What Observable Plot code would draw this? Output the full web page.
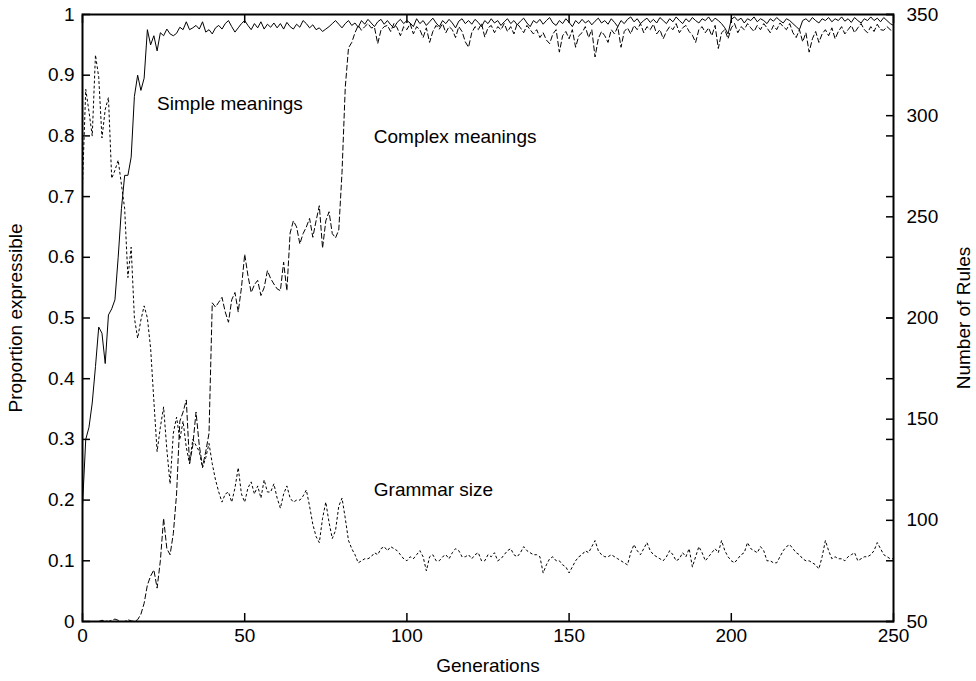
<!DOCTYPE html>
<html>
<head>
<meta charset="utf-8">
<script src="https://cdn.jsdelivr.net/npm/d3@7"></script>
<script src="https://cdn.jsdelivr.net/npm/@observablehq/plot@0.6"></script>
<style>
  html, body { margin: 0; padding: 0; background: #fff; }
</style>
</head>
<body>
<div id="chart"></div>
<script>
// Proportion of simple meanings expressible, generation 0..250
const simple = [
  0.19,0.30,0.32,0.36,0.42,0.485,0.475,0.425,0.505,0.515,
  0.53,0.60,0.68,0.735,0.735,0.765,0.865,0.90,0.875,0.895,
  0.975,0.95,0.965,0.94,0.97,0.965,0.976,0.968,0.965,0.969,
  0.979,0.975,0.988,0.975,0.978,0.982,0.976,0.988,0.971,0.975,
  0.968,0.978,0.982,0.976,0.985,0.99,0.98,0.971,0.978,0.985,
  0.99,0.982,0.975,0.985,0.978,0.988,0.976,0.984,0.979,0.986,
  0.978,0.985,0.976,0.987,0.98,0.976,0.984,0.979,0.99,0.985,
  0.978,0.983,0.975,0.978,0.972,0.976,0.98,0.985,0.99,0.984,
  0.978,0.985,0.99,0.982,0.986,0.979,0.99,0.984,0.992,0.986,
  0.98,0.988,0.992,0.984,0.99,0.983,0.978,0.987,0.992,0.985,
  0.99,0.986,0.98,0.993,0.985,0.99,0.982,0.988,0.994,0.986,
  0.98,0.99,0.985,0.992,0.986,0.978,0.989,0.993,0.985,0.99,
  0.984,0.992,0.987,0.98,0.99,0.985,0.993,0.986,0.99,0.982,
  0.988,0.993,0.985,0.99,0.983,0.989,0.994,0.986,0.98,0.99,
  0.986,0.992,0.984,0.99,0.995,0.986,0.982,0.99,0.985,0.993,
  0.987,0.98,0.99,0.985,0.992,0.986,0.99,0.983,0.989,0.994,
  0.986,0.99,0.984,0.993,0.987,0.98,0.99,0.985,0.992,0.996,
  0.988,0.993,0.985,0.99,0.994,0.987,0.992,0.986,0.995,0.99,
  0.985,0.993,0.988,0.996,0.99,0.985,0.993,0.988,0.995,0.99,
  0.986,0.993,0.99,0.996,0.988,0.994,0.99,0.985,0.978,0.968,
  0.992,0.996,0.99,0.994,0.986,0.993,0.99,0.996,0.988,0.993,
  0.99,0.985,0.993,0.989,0.995,0.99,0.986,0.993,0.99,0.985,
  0.98,0.975,0.99,0.993,0.988,0.995,0.99,0.986,0.993,0.99,
  0.995,0.988,0.993,0.99,0.996,0.989,0.993,0.987,0.995,0.99,
  0.986,0.993,0.99,0.996,0.99,0.994,0.988,0.995,0.99,0.985,
  0.982
];

// Proportion of complex meanings expressible, generation 0..250
const complex = [
  0,0,0,0,0,0,0.002,0.001,0,0.002,
  0.004,0.002,0,0,0.003,0.001,0,0.003,0.012,0.03,
  0.06,0.075,0.085,0.055,0.10,0.17,0.12,0.11,0.145,0.21,
  0.33,0.345,0.365,0.26,0.29,0.345,0.29,0.255,0.28,0.31,
  0.525,0.518,0.526,0.534,0.51,0.493,0.53,0.542,0.51,0.55,
  0.605,0.57,0.542,0.555,0.562,0.537,0.55,0.578,0.565,0.556,
  0.548,0.545,0.592,0.545,0.64,0.66,0.65,0.622,0.639,0.65,
  0.664,0.633,0.66,0.685,0.615,0.66,0.675,0.639,0.632,0.645,
  0.74,0.88,0.945,0.954,0.97,0.982,0.974,0.98,0.985,0.978,
  0.979,0.952,0.974,0.98,0.982,0.972,0.985,0.978,0.965,0.98,
  0.975,0.985,0.968,0.98,0.975,0.962,0.978,0.954,0.972,0.982,
  0.976,0.985,0.97,0.98,0.975,0.962,0.98,0.972,0.955,0.946,
  0.97,0.98,0.975,0.985,0.963,0.978,0.982,0.97,0.98,0.975,
  0.985,0.972,0.98,0.968,0.985,0.978,0.97,0.982,0.975,0.968,
  0.975,0.962,0.97,0.958,0.952,0.968,0.975,0.938,0.965,0.972,
  0.96,0.975,0.946,0.965,0.97,0.98,0.962,0.975,0.93,0.96,
  0.972,0.965,0.954,0.975,0.968,0.98,0.946,0.972,0.978,0.968,
  0.982,0.975,0.985,0.97,0.98,0.975,0.984,0.968,0.975,0.96,
  0.972,0.98,0.975,0.985,0.97,0.978,0.982,0.972,0.966,0.954,
  0.975,0.98,0.97,0.978,0.965,0.982,0.944,0.97,0.975,0.96,
  0.978,0.985,0.97,0.98,0.975,0.985,0.978,0.972,0.982,0.975,
  0.985,0.978,0.97,0.982,0.975,0.986,0.98,0.975,0.985,0.97,
  0.962,0.975,0.955,0.97,0.938,0.96,0.972,0.954,0.968,0.975,
  0.965,0.978,0.96,0.972,0.98,0.968,0.975,0.982,0.97,0.978,
  0.985,0.975,0.97,0.98,0.972,0.984,0.975,0.974,0.98,0.975,
  0.972
];

// Grammar size (number of rules, right axis), generation 0..250
const grammar = [
  266,313,302,290,330,319,289,303,309,269,
  273,278,266,254,220,235,200,190,199,206,
  200,185,159,134,146,156,135,118,143,151,
  140,149,136,128,140,137,134,126,131,138,
  128,120,114,109,113,114,109,116,126,113,
  109,116,119,113,117,111,120,114,114,118,
  111,106,113,117,111,109,110,110,112,115,
  107,98,92,89,101,109,99,91,95,107,
  111,101,90,86,83,79,80,81,81,82,
  84,83,86,87,85,87,86,85,83,81,
  80,82,81,83,85,82,75,82,83,80,
  80,82,83,81,84,86,85,82,82,83,
  81,83,84,80,80,83,82,84,80,81,
  83,85,86,83,82,84,87,85,84,83,
  83,82,74,78,81,82,80,80,78,77,
  74,77,80,82,83,85,84,87,90,85,
  83,82,82,83,82,81,80,79,78,84,
  88,85,83,86,89,85,83,82,81,80,
  82,85,83,80,81,84,82,86,77,82,
  87,84,80,82,84,86,84,90,85,82,
  80,79,81,83,84,89,86,85,84,87,
  85,80,80,79,79,82,85,87,88,86,
  84,83,81,80,80,79,78,76,82,90,
  85,81,82,81,81,80,82,83,84,80,
  81,82,82,83,85,89,86,83,82,81,
  81
];

const xTicks = [0, 50, 100, 150, 200, 250];
const yTicks = [0, 0.1, 0.2, 0.3, 0.4, 0.5, 0.6, 0.7, 0.8, 0.9, 1];
const y2Ticks = [50, 100, 150, 200, 250, 300, 350];

const xLabel = "Generations";
const yLabel = "Proportion expressible";
const y2Label = "Number of Rules";

const seriesLabels = [
  {text: "Simple meanings", gen: 23, value: 0.853},
  {text: "Complex meanings", gen: 89.8, value: 0.799},
  {text: "Grammar size", gen: 89.8, value: 0.2175}
];

// map the right axis (rules) onto the left axis (proportion)
const rulesToProp = d3.scaleLinear().domain([50, 350]).range([0, 1]);

const gens = d3.range(simple.length);
const font = "Liberation Sans, Arial, Helvetica, sans-serif";
const fs = 19;
const blank = () => "";

const chart = Plot.plot({
  width: 976,
  height: 681,
  marginLeft: 82,
  marginRight: 83,
  marginTop: 14,
  marginBottom: 60,
  style: {fontFamily: font, fontSize: fs + "px", background: "#fff", color: "#000"},
  x: {domain: [0, 250]},
  y: {domain: [0, 1]},
  marks: [
    // lines
    Plot.line(gens, {x: i => i, y: i => simple[i], stroke: "#000", strokeWidth: 1}),
    Plot.line(gens, {x: i => i, y: i => complex[i], stroke: "#000", strokeWidth: 1, strokeDasharray: "5,3"}),
    Plot.line(gens, {x: i => i, y: i => rulesToProp(grammar[i]), stroke: "#000", strokeWidth: 1, strokeDasharray: "2,3"}),
    // inward ticks
    Plot.axisX({ticks: xTicks, tickSize: 8, dy: -8, tickFormat: blank, label: null, strokeWidth: 1.5}),
    Plot.axisX({anchor: "top", ticks: xTicks, tickSize: 8, dy: 8, tickFormat: blank, label: null, strokeWidth: 1.5}),
    Plot.axisY({ticks: yTicks, tickSize: 8, dx: 8, tickFormat: blank, label: null, strokeWidth: 1.5}),
    Plot.axisY({anchor: "right", ticks: yTicks, tickSize: 8, dx: -8, tickFormat: blank, label: null, strokeWidth: 1.5}),
    Plot.axisY({anchor: "right", ticks: y2Ticks.map(r => rulesToProp(r)), tickSize: 8, dx: -8, tickFormat: blank, label: null, strokeWidth: 1.5}),
    // tick labels
    Plot.axisX({ticks: xTicks, tickSize: 0, tickPadding: 7, tickFormat: d => String(d), label: null, fontSize: fs}),
    Plot.axisY({ticks: yTicks, tickSize: 0, tickPadding: 8, tickFormat: d => String(+d.toFixed(1)), label: null, fontSize: fs}),
    Plot.axisY({anchor: "right", ticks: y2Ticks.map(r => rulesToProp(r)), tickSize: 0, tickPadding: 13,
      tickFormat: d => String(Math.round(rulesToProp.invert(d))), label: null, fontSize: fs}),
    // frame
    Plot.frame({stroke: "#000", strokeWidth: 2}),
    // axis titles
    Plot.text([xLabel], {text: d => d, frameAnchor: "bottom", dy: 44, textAnchor: "middle", lineAnchor: "middle", fontSize: fs, fill: "#000"}),
    Plot.text([yLabel], {text: d => d, frameAnchor: "left", dx: -67, rotate: -90, textAnchor: "middle", lineAnchor: "middle", fontSize: fs, fill: "#000"}),
    Plot.text([y2Label], {text: d => d, frameAnchor: "right", dx: 70, rotate: -90, textAnchor: "middle", lineAnchor: "middle", fontSize: fs, fill: "#000"}),
    // series annotations
    Plot.text(seriesLabels, {x: "gen", y: "value", text: "text", textAnchor: "start", lineAnchor: "middle", fontSize: fs, fill: "#000"})
  ]
});

document.getElementById("chart").appendChild(chart);
</script>
</body>
</html>
